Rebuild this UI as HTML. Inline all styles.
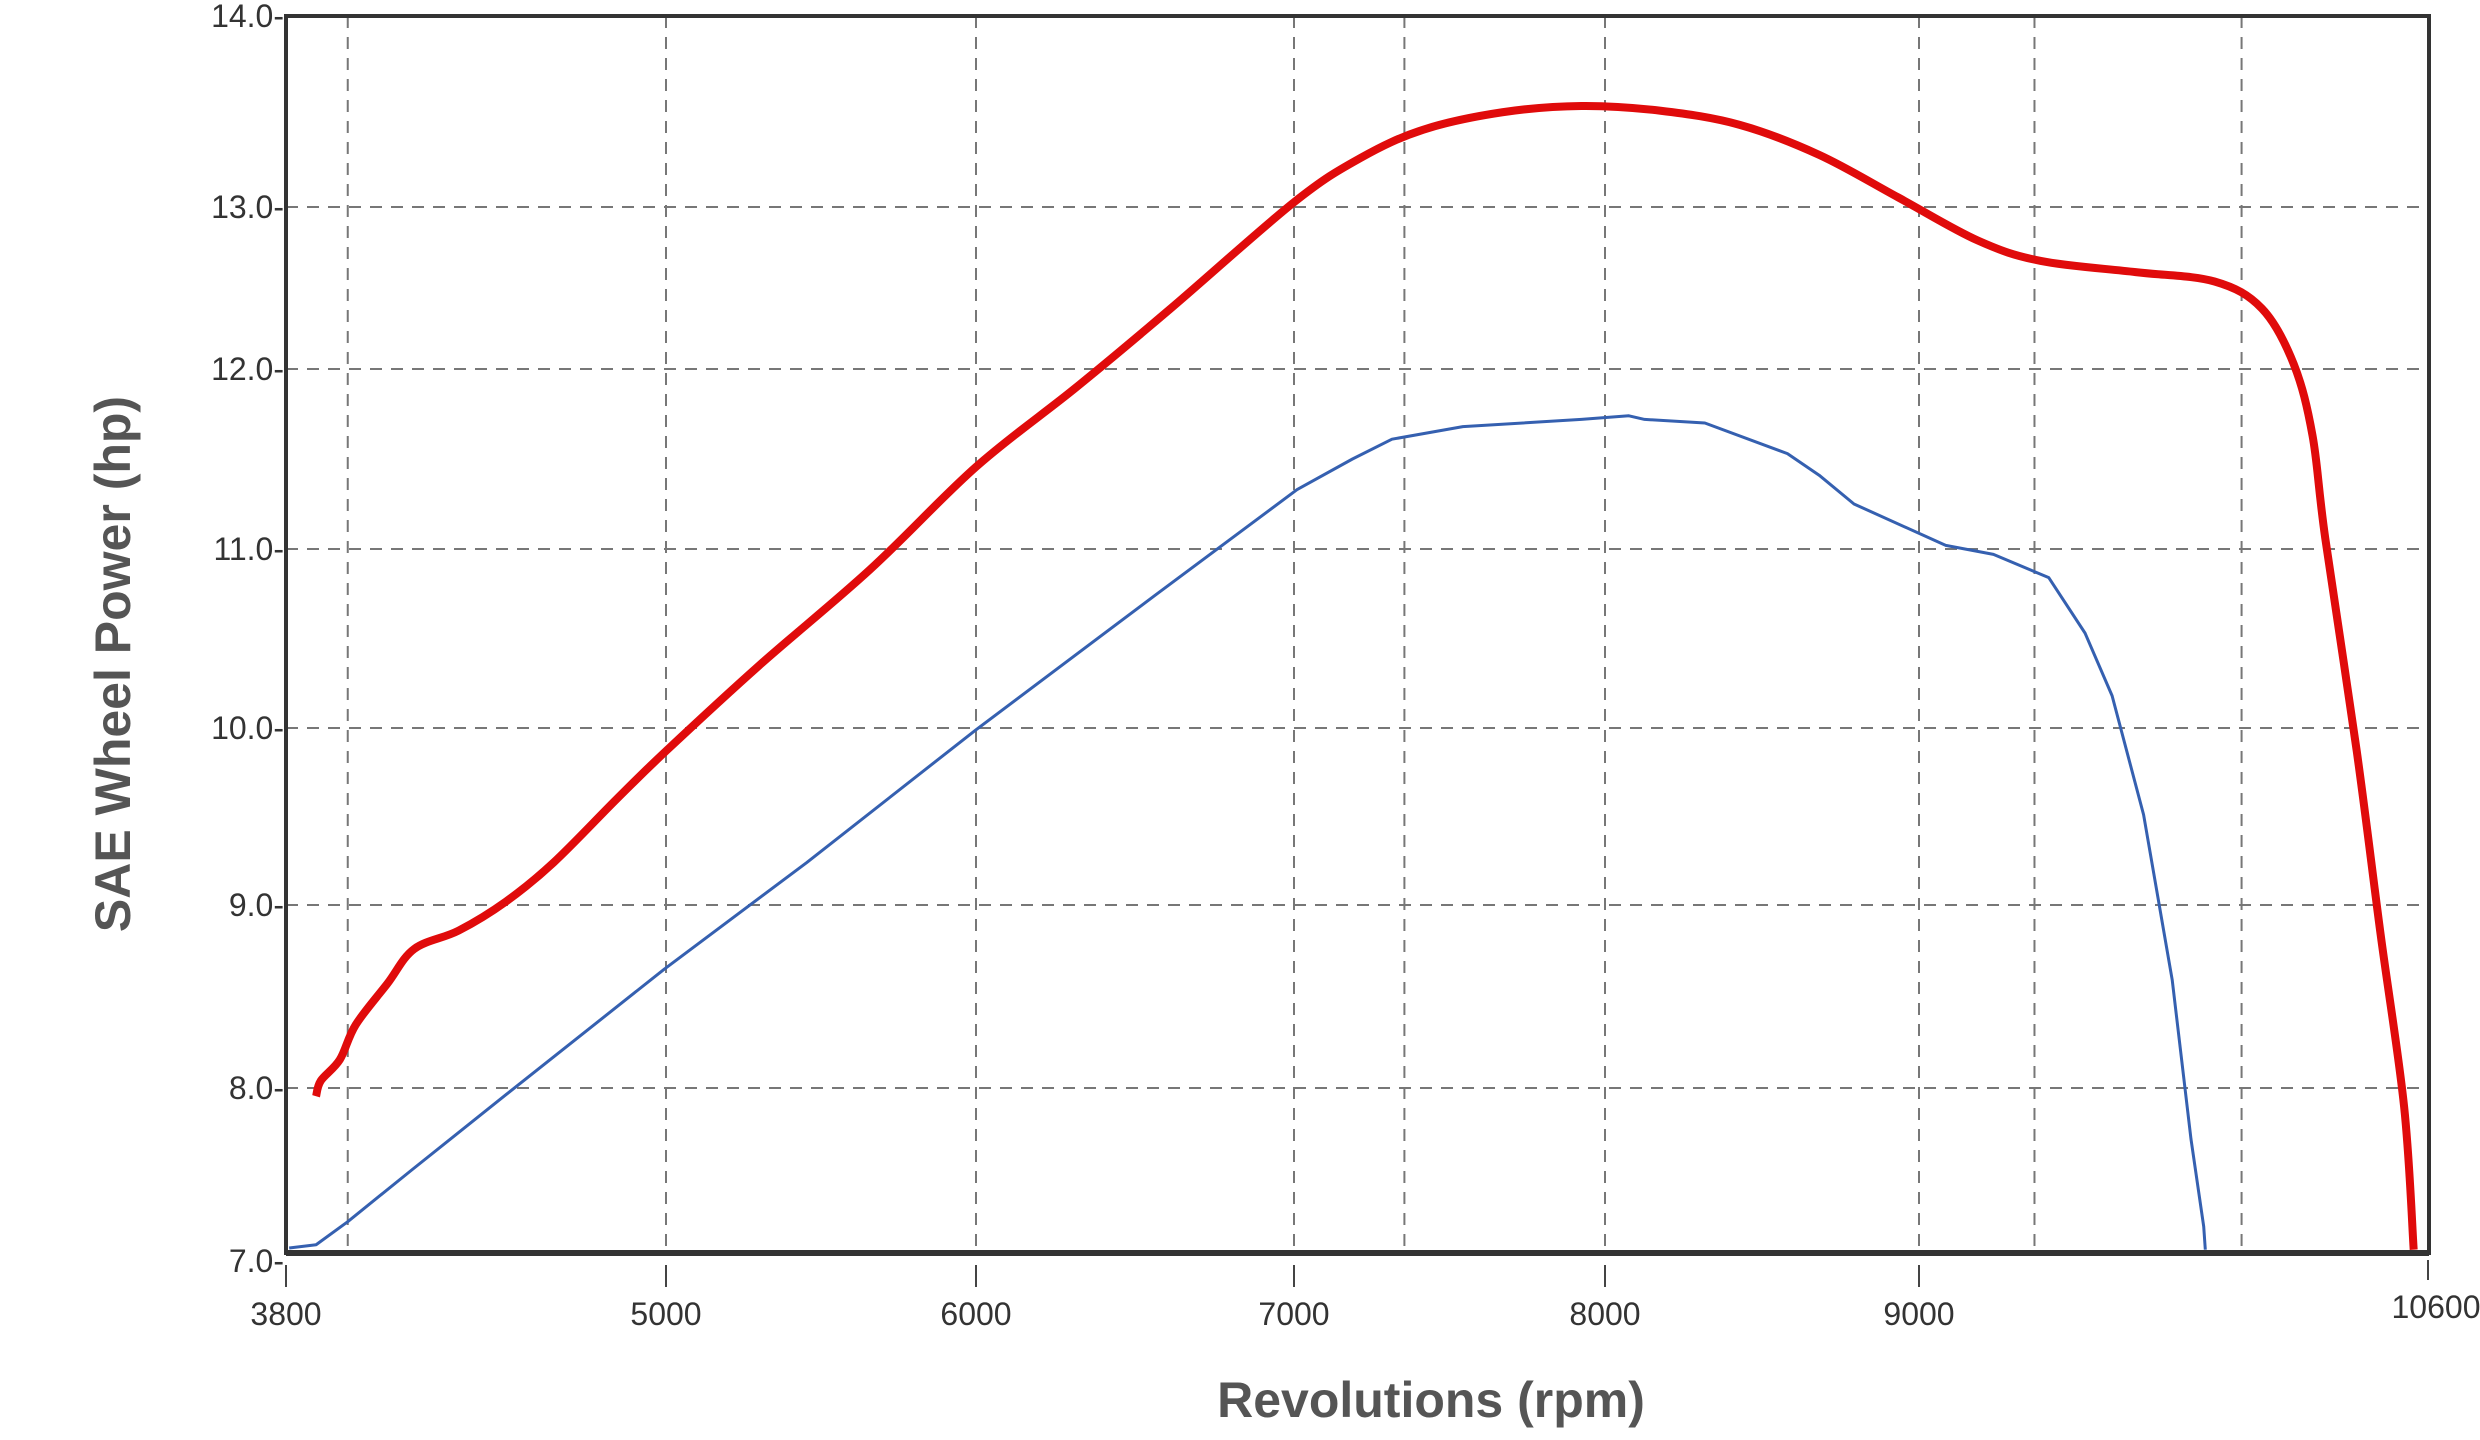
<!DOCTYPE html>
<html><head><meta charset="utf-8"><style>
html,body{margin:0;padding:0;background:#fff;}
svg{display:block;font-family:"Liberation Sans",sans-serif;}
</style></head><body>
<svg id="chart" width="2480" height="1440" viewBox="0 0 2480 1440" xmlns="http://www.w3.org/2000/svg">
<g id="grid"></g>
<g id="ticks"></g>
<g id="series"></g>
<rect x="286" y="16" width="2143" height="1237" fill="none" stroke="#333" stroke-width="4"/>
<line x1="286" y1="1253" x2="2429" y2="1253" stroke="#333" stroke-width="6"/>
<text x="0" y="0" transform="translate(130,664) rotate(-90)" text-anchor="middle" font-size="50" font-weight="bold" fill="#555">SAE Wheel Power (hp)</text>
<text x="1431" y="1417" text-anchor="middle" font-size="50" font-weight="bold" fill="#555">Revolutions (rpm)</text>
</svg>
<script>
const xTickValues=[3800,5000,6000,7000,8000,9000,10600];
const xTickLabels=["3800","5000","6000","7000","8000","9000","10600"];
const yTickValues=[14,13,12,11,10,9,8,7];
const yTickLabels=["14.0-","13.0-","12.0-","11.0-","10.0-","9.0-","8.0-","7.0-"];
const xGridExtra=[3995,7355,9363,10014];
const redRpm=[3895,3910,3970,4020,4120,4205,4345,4495,4645,4845,5000,5301,5658,6000,6313,6612,7000,7213,7416,7670,7924,8177,8429,8682,8934,9184,9383,9681,9929,10078,10178,10237,10277,10376,10451,10525,10555];
const redHp=[7.95,8.04,8.155,8.345,8.57,8.76,8.86,9.02,9.24,9.6,9.87,10.35,10.885,11.456,11.895,12.373,13.025,13.256,13.405,13.496,13.529,13.504,13.43,13.273,13.05,12.794,12.667,12.598,12.54,12.373,12.03,11.63,11.06,9.87,8.84,7.885,7.02];
const blueRpm=[3810,3895,3995,4195,4495,4995,5454,6000,6562,7010,7188,7315,7543,7924,8076,8126,8318,8581,8682,8793,9084,9234,9408,9522,9607,9706,9796,9855,9895,9900];
const blueHp=[7.03,7.05,7.19,7.5,7.96,8.65,9.24,9.99,10.74,11.33,11.5,11.61,11.68,11.72,11.74,11.72,11.7,11.53,11.41,11.25,11.02,10.97,10.84,10.53,10.18,9.51,8.59,7.69,7.16,7.02];

const xDom=[3800,5000,6000,7000,8000,9000,10600], xRng=[286,666,976,1294,1605,1919,2428];
const yDom=[7,8,9,10,11,12,13,14], yRng=[1253,1088,905,728,549,369,207,16];
function pw(v,d,r){let i=0;while(i<d.length-2&&v>d[i+1])i++;return r[i]+(v-d[i])/(d[i+1]-d[i])*(r[i+1]-r[i]);}
const X=v=>pw(v,xDom,xRng), Y=v=>pw(v,yDom,yRng);
const NS="http://www.w3.org/2000/svg";
function mk(t,a,p){const e=document.createElementNS(NS,t);for(const k in a)e.setAttribute(k,a[k]);p.appendChild(e);return e;}
const grid=document.getElementById('grid'),ticks=document.getElementById('ticks'),series=document.getElementById('series');
const gstyle={stroke:"#777","stroke-width":2,"stroke-dasharray":"12 9",fill:"none"};
xTickValues.slice(1,-1).concat(xGridExtra).forEach(v=>{
  const l=mk('line',Object.assign({x1:X(v),x2:X(v),y1:16,y2:1253},gstyle),grid);
  
  
});
yTickValues.slice(1,-1).forEach(v=>{
  const l=mk('line',Object.assign({x1:286,x2:2429,y1:Y(v),y2:Y(v)},gstyle),grid);
  
  
});
yTickValues.forEach((v,i)=>{
  const t=mk('text',{x:284,y:Y(v)+11+(v===7?8:0),"text-anchor":"end","font-size":32,fill:"#333"},ticks);
  t.textContent=yTickLabels[i];
  
  
});
xTickValues.forEach((v,i)=>{
  const last=i===xTickValues.length-1;
  const tk=mk('line',{x1:X(v),x2:X(v),y1:last?1260:1265,y2:last?1280:1287,stroke:"#444","stroke-width":2},ticks);
  
  
  const t=mk('text',{x:X(v)+(last?8:0),y:last?1318:1325,"text-anchor":"middle","font-size":32,fill:"#333"},ticks);
  t.textContent=xTickLabels[i];
  
  
});
function smooth(xs,ys){
  const p=xs.map((x,i)=>[X(x),Y(ys[i])]);
  let d="M"+p[0][0]+","+p[0][1];
  for(let i=0;i<p.length-1;i++){
    const p0=p[i-1]||p[i],p1=p[i],p2=p[i+1],p3=p[i+2]||p2;
    const c1=[p1[0]+(p2[0]-p0[0])/6,p1[1]+(p2[1]-p0[1])/6];
    const c2=[p2[0]-(p3[0]-p1[0])/6,p2[1]-(p3[1]-p1[1])/6];
    d+=" C"+c1+" "+c2+" "+p2;
  }
  return d;
}
const red=mk('path',{d:smooth(redRpm,redHp),fill:"none",stroke:"#e00b0b","stroke-width":8,"stroke-linejoin":"round"},series);


const blue=mk('polyline',{points:blueRpm.map((x,i)=>X(x)+","+Y(blueHp[i])).join(" "),fill:"none",stroke:"#3560b0","stroke-width":3,"stroke-linejoin":"round"},series);


</script>
</body></html>
